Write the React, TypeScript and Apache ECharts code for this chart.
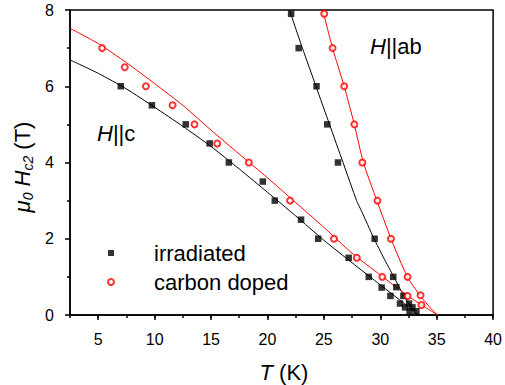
import React, { useEffect, useRef } from "react";
import * as echarts from "echarts";

// ---- data (T in K, field in T) ----
const X_TICKS = ["2.5", "5", "7.5", "10", "12.5", "15", "17.5", "20", "22.5", "25", "27.5", "30", "32.5", "35", "37.5", "40"];

const irrC_T = [7.0, 9.76, 12.76, 14.88, 16.58, 19.59, 20.65, 22.98, 24.5, 27.2, 28.98, 30.12, 30.9, 31.75, 32.2, 32.6];
const irrC_H = [6.0, 5.5, 5.0, 4.5, 4.0, 3.5, 3.0, 2.5, 2.0, 1.5, 1.0, 0.72, 0.5, 0.3, 0.2, 0.1];

const irrAB_T = [22.1, 22.77, 24.35, 25.3, 26.25, 29.5, 31.15, 31.42, 32.05, 32.55, 32.85, 33.2];
const irrAB_H = [7.9, 7.0, 6.0, 5.0, 4.0, 2.0, 1.0, 0.73, 0.5, 0.3, 0.2, 0.1];

const carC_T = [5.35, 7.35, 9.23, 11.59, 13.53, 15.55, 18.35, 22.0, 25.9, 27.92, 30.18, 32.42, 33.65];
const carC_H = [7.0, 6.5, 6.0, 5.5, 5.0, 4.5, 4.0, 3.0, 2.0, 1.5, 1.0, 0.5, 0.26];

const carAB_T = [25.03, 25.77, 26.8, 27.7, 28.41, 29.75, 30.95, 32.42, 33.57];
const carAB_H = [7.9, 7.0, 6.0, 5.0, 4.0, 3.0, 2.0, 1.0, 0.52];

// fitted curves
const fitIrrC_T = [2.5, 5, 7.5, 10, 12.5, 15, 17.5, 20, 22.5, 25, 27.5, 30, 32, 33.4];
const fitIrrC_H = [6.69, 6.34, 5.93, 5.45, 4.95, 4.42, 3.83, 3.22, 2.6, 1.96, 1.37, 0.79, 0.33, 0];

const fitCarC_T = [2.5, 5, 7.5, 10, 12.5, 15, 17.5, 20, 22.5, 25, 27.5, 30, 32.5, 34, 35.1];
const fitCarC_H = [7.52, 7.12, 6.62, 6.07, 5.5, 4.85, 4.22, 3.6, 2.95, 2.3, 1.62, 1.05, 0.49, 0.2, 0];

const fitIrrAB_T = [21.95, 23.1, 24.3, 25.5, 26.7, 27.9, 28.3, 29.45, 30.3, 31.2, 32.0, 32.7, 33.3];
const fitIrrAB_H = [8, 7, 6, 5, 4, 3, 2.75, 2.0, 1.5, 1.0, 0.55, 0.22, 0];

const fitCarAB_T = [24.9, 25.77, 26.8, 27.7, 28.5, 29.7, 30.95, 32.4, 33.55, 34.4, 35.05];
const fitCarAB_H = [8, 7, 6, 5, 4, 3, 2, 1, 0.5, 0.2, 0];

const zip = (a: number[], b: number[]) => a.map((v, i) => [v, b[i]]);

const FONT = "Liberation Sans, Arial, sans-serif";

export default function App() {
  const ref = useRef<HTMLDivElement>(null);
  useEffect(() => {
    if (!ref.current) return;
    const chart = echarts.init(ref.current, null, { renderer: "svg" });
    const black = "#000";
    const red = "#ff0000";
    const isMajor = (_i: number, v: string) => Number(v) % 5 === 0;
    const lineSeries = (name: string, t: number[], h: number[], color: string) => ({
      type: "line",
      name,
      data: zip(t, h),
      showSymbol: false,
      symbol: "none",
      smooth: 0.2,
      lineStyle: { color, width: 1 },
      z: 2,
      silent: true,
    });
    chart.setOption({
      animation: false,
      textStyle: { fontFamily: FONT },
      grid: {
        left: 70,
        right: 11,
        top: 10,
        bottom: 70,
        show: true,
        borderColor: black,
        borderWidth: 1.5,
        backgroundColor: "transparent",
      },
      xAxis: [
        {
          type: "value",
          min: 2.5,
          max: 40,
          interval: 2.5,
          position: "bottom",
          axisLine: { show: true, lineStyle: { color: black, width: 1.5 } },
          axisTick: { show: true, length: 3, lineStyle: { color: black, width: 1.5 } },
          axisLabel: { show: false },
          splitLine: { show: false },
        },
        {
          type: "category",
          data: X_TICKS,
          boundaryGap: false,
          position: "bottom",
          axisLine: { show: false },
          axisTick: { show: true, length: 5, interval: isMajor, lineStyle: { color: black, width: 1.5 } },
          axisLabel: { show: true, interval: isMajor, fontSize: 16, margin: 16, color: black, fontFamily: FONT },
          splitLine: { show: false },
        },
      ],
      yAxis: {
        type: "value",
        min: 0,
        max: 8,
        interval: 2,
        axisLine: { show: true, lineStyle: { color: black, width: 1.5 } },
        axisTick: { show: true, length: 5, lineStyle: { color: black, width: 1.5 } },
        minorTick: { show: true, splitNumber: 2, length: 3, lineStyle: { color: black, width: 1.5 } },
        axisLabel: { fontSize: 16, margin: 16, color: black, fontFamily: FONT },
        splitLine: { show: false },
      },
      legend: {
        data: ["irradiated", "carbon doped"],
        orient: "vertical",
        left: 107,
        top: 242,
        padding: 0,
        itemGap: 7,
        itemWidth: 6,
        itemHeight: 6,
        selectedMode: false,
        textStyle: { fontSize: 22, lineHeight: 22, color: black, fontFamily: FONT, padding: [0, 0, 0, 35] },
      },
      graphic: [
        {
          type: "text",
          x: 22,
          y: 167,
          rotation: Math.PI / 2,
          style: {
            text: "{i|μ}{s|0} {i|H}{s|c2} (T)",
            x: 0,
            y: 0,
            align: "center",
            verticalAlign: "middle",
            textAlign: "center",
            textVerticalAlign: "middle",
            fill: black,
            fontSize: 22,
            fontFamily: FONT,
            rich: {
              i: { fontStyle: "italic", fontSize: 22, fontFamily: FONT, lineHeight: 26 },
              s: { fontStyle: "italic", fontSize: 14, fontFamily: FONT, verticalAlign: "bottom", lineHeight: 26, padding: [8, 0, 0, 0] },
            },
          },
        },
        {
          type: "text",
          style: {
            text: "{i|T} (K)",
            x: 284,
            y: 372,
            align: "center",
            verticalAlign: "middle",
            textAlign: "center",
            textVerticalAlign: "middle",
            fill: black,
            fontSize: 22,
            fontFamily: FONT,
            rich: { i: { fontStyle: "italic", fontSize: 22, fontFamily: FONT } },
          },
        },
        {
          type: "text",
          style: {
            text: "{i|H}||c",
            x: 97,
            y: 133,
            align: "left",
            verticalAlign: "middle",
            textAlign: "left",
            textVerticalAlign: "middle",
            fill: black,
            fontSize: 22,
            fontFamily: FONT,
            rich: { i: { fontStyle: "italic", fontSize: 22, fontFamily: FONT } },
          },
        },
        {
          type: "text",
          style: {
            text: "{i|H}||ab",
            x: 370,
            y: 46,
            align: "left",
            verticalAlign: "middle",
            textAlign: "left",
            textVerticalAlign: "middle",
            fill: black,
            fontSize: 22,
            fontFamily: FONT,
            rich: { i: { fontStyle: "italic", fontSize: 22, fontFamily: FONT } },
          },
        },
      ],
      series: [
        lineSeries("fit irradiated c", fitIrrC_T, fitIrrC_H, black),
        lineSeries("fit irradiated ab", fitIrrAB_T, fitIrrAB_H, black),
        lineSeries("fit carbon c", fitCarC_T, fitCarC_H, red),
        lineSeries("fit carbon ab", fitCarAB_T, fitCarAB_H, red),
        {
          type: "scatter",
          name: "irradiated",
          data: zip(irrC_T, irrC_H),
          symbol: "rect",
          symbolSize: 6.5,
          itemStyle: { color: black },
          z: 3,
        },
        {
          type: "scatter",
          name: "irradiated",
          data: zip(irrAB_T, irrAB_H),
          symbol: "rect",
          symbolSize: 6.5,
          itemStyle: { color: black },
          z: 3,
        },
        {
          type: "scatter",
          name: "carbon doped",
          data: zip(carC_T, carC_H),
          symbol: "emptyCircle",
          symbolSize: 6,
          itemStyle: { color: red, borderColor: red, borderWidth: 1 },
          z: 3,
        },
        {
          type: "scatter",
          name: "carbon doped",
          data: zip(carAB_T, carAB_H),
          symbol: "emptyCircle",
          symbolSize: 6,
          itemStyle: { color: red, borderColor: red, borderWidth: 1 },
          z: 3,
        },
      ],
    });
    return () => chart.dispose();
  }, []);
  return (
    <div
      ref={ref}
      style={{ position: "absolute", left: 0, top: 0, width: 505, height: 385 }}
    />
  );
}
